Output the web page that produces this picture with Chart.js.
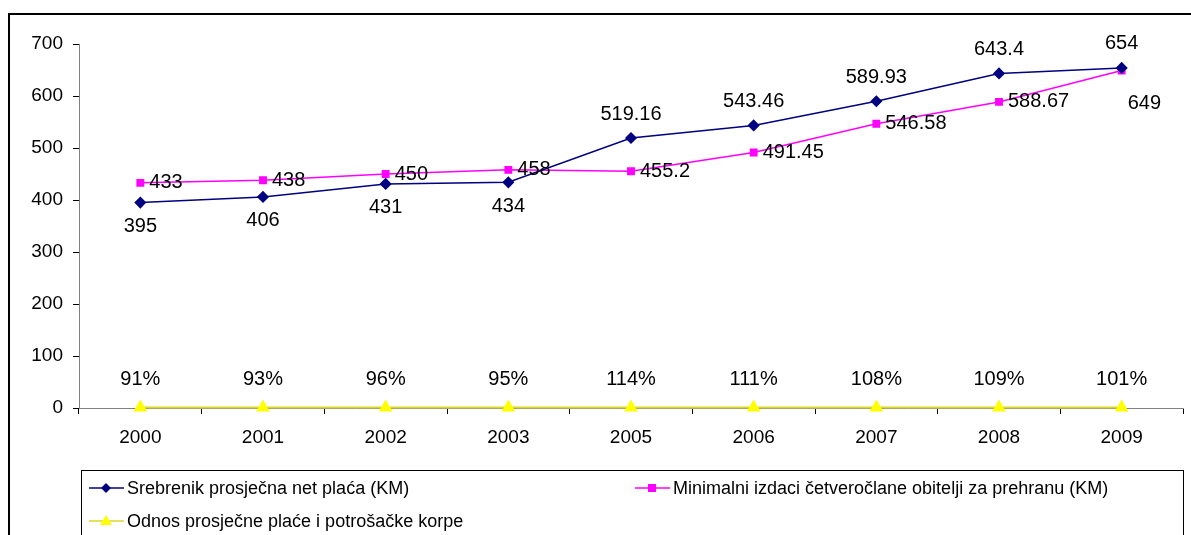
<!DOCTYPE html>
<html>
<head>
<meta charset="utf-8">
<script src="https://cdn.jsdelivr.net/npm/chart.js@4/dist/chart.umd.min.js"></script>
<style>
  body { margin: 0; background: #fff; }
  #wrap { position: absolute; left: 0; top: 0; width: 1191px; height: 535px; }
</style>
</head>
<body>
<div id="wrap"><canvas id="myChart"></canvas></div>
<script>
const years = ['2000', '2001', '2002', '2003', '2005', '2006', '2007', '2008', '2009'];
const placa = [395, 406, 431, 434, 519.16, 543.46, 589.93, 643.4, 654];
const izdaci = [433, 438, 450, 458, 455.2, 491.45, 546.58, 588.67, 649];
const odnos = [0.91, 0.93, 0.96, 0.95, 1.14, 1.11, 1.08, 1.09, 1.01];
const yTicks = [0, 100, 200, 300, 400, 500, 600, 700];

const FONT = "'Liberation Sans', Arial, sans-serif";

// labels next to points, plus the frame and the legend box
const extras = {
  id: 'extras',
  beforeDraw(chart) {
    const c = chart.ctx;
    c.save();
    c.fillStyle = '#fff';
    c.fillRect(0, 0, chart.width, chart.height);
    c.strokeStyle = '#000';
    c.lineWidth = 2;
    c.strokeRect(9, 14, 1200, 600);
    c.restore();
  },
  afterDatasetsDraw(chart) {
    const c = chart.ctx;
    c.save();
    c.font = '20px ' + FONT;
    c.fillStyle = '#000';
    c.textBaseline = 'middle';
    chart.getDatasetMeta(0).data.forEach((p, i) => {
      c.textAlign = 'center';
      const dy = i < 4 ? 24 : -24;
      c.fillText(String(placa[i]), p.x, p.y + dy);
    });
    chart.getDatasetMeta(1).data.forEach((p, i) => {
      c.textAlign = 'left';
      if (i == 8) c.fillText(String(izdaci[i]), p.x + 6, p.y + 33);
      else c.fillText(String(izdaci[i]), p.x + 9, p.y);
    });
    chart.getDatasetMeta(2).data.forEach((p, i) => {
      c.textAlign = 'center';
      c.fillText(Math.round(odnos[i] * 100) + '%', p.x, p.y - 28);
    });

    // legend
    c.strokeStyle = '#000';
    c.lineWidth = 1;
    c.strokeRect(81.5, 470.5, 1102, 100);
    c.font = '18px ' + FONT;
    c.textAlign = 'left';
    const items = [
      {x: 89, y: 488, ds: chart.data.datasets[0]},
      {x: 635, y: 488, ds: chart.data.datasets[1]},
      {x: 89, y: 521, ds: chart.data.datasets[2]}
    ];
    items.forEach(it => {
      c.strokeStyle = it.ds.borderColor;
      c.lineWidth = 1.5;
      c.beginPath();
      c.moveTo(it.x, it.y);
      c.lineTo(it.x + 35, it.y);
      c.stroke();
      c.fillStyle = it.ds.pointBackgroundColor;
      const mx = it.x + 17, my = it.y;
      c.beginPath();
      if (it.ds.pointStyle == 'rectRot') {
        c.moveTo(mx, my - 5); c.lineTo(mx + 5, my); c.lineTo(mx, my + 5); c.lineTo(mx - 5, my);
      } else if (it.ds.pointStyle == 'rect') {
        c.rect(mx - 4, my - 4, 8, 8);
      } else {
        c.moveTo(mx, my - 6); c.lineTo(mx + 6, my + 4); c.lineTo(mx - 6, my + 4);
      }
      c.closePath();
      c.fill();
      c.fillStyle = '#000';
      c.fillText(it.ds.label, it.x + 38, it.y + 1);
    });
    c.restore();
  }
};

const data = {
  labels: years,
  datasets: [{
    label: 'Srebrenik prosječna net plaća (KM)',
    data: placa,
    borderColor: '#000080',
    backgroundColor: '#000080',
    pointBackgroundColor: '#000080',
    pointBorderColor: '#000080',
    pointStyle: 'rectRot',
    pointRadius: 5,
    borderWidth: 1.5
  },
  {
    label: 'Minimalni izdaci četveročlane obitelji za prehranu (KM)',
    data: izdaci,
    borderColor: '#ff00ff',
    backgroundColor: '#ff00ff',
    pointBackgroundColor: '#ff00ff',
    pointBorderColor: '#ff00ff',
    pointStyle: 'rect',
    pointRadius: 4.5,
    borderWidth: 1.5
  },
  {
    label: 'Odnos prosječne plaće i potrošačke korpe',
    data: odnos,
    borderColor: '#d8d828',
    backgroundColor: '#ffff00',
    pointBackgroundColor: '#ffff00',
    pointBorderColor: '#ffff00',
    pointStyle: 'triangle',
    pointRadius: 6,
    borderWidth: 2,
    clip: false
  }]
};

const config = {
  type: 'line',
  data: data,
  options: {
    responsive: false,
    animation: false,
    layout: { padding: { left: 0, top: 44, right: 1, bottom: 67 } },
    plugins: { legend: { display: false }, tooltip: { enabled: false } },
    scales: {
      x: {
        offset: true,
        grid: { offset: true, drawOnChartArea: false, color: '#000', tickLength: 6 },
        border: { color: '#808080' },
        ticks: { color: '#000', font: { family: FONT, size: 19 }, padding: 12 },
        afterFit: s => { s.height = 60; }
      },
      y: {
        min: 0, max: 700,
        afterBuildTicks: s => { s.ticks = yTicks.map(v => ({value: v})); },
        grid: { drawOnChartArea: false, color: '#000', tickLength: 6 },
        border: { color: '#808080' },
        ticks: { color: '#000', font: { family: FONT, size: 19 }, padding: 10 },
        afterFit: s => { s.width = 79; }
      }
    }
  },
  plugins: [extras]
};

const canvas = document.getElementById('myChart');
canvas.width = 1191;
canvas.height = 535;
const myChart = new Chart(canvas.getContext('2d'), config);
</script>
</body>
</html>
